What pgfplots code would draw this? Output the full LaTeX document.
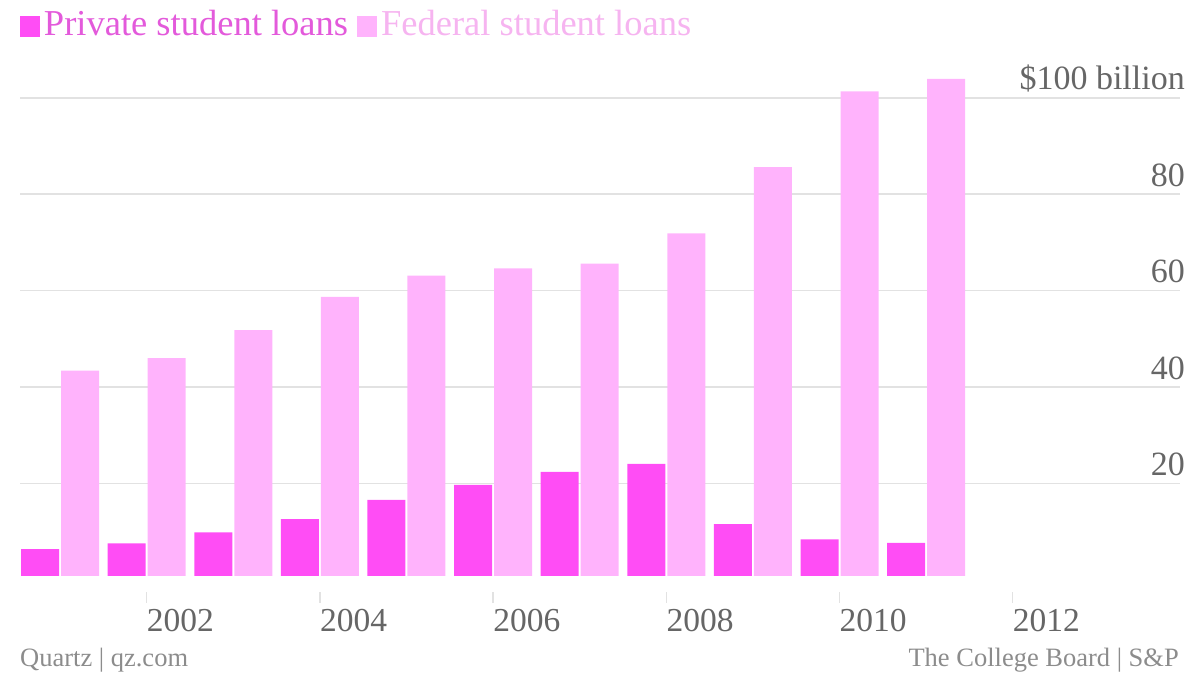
\documentclass[border=0pt]{standalone}
\usepackage{fontspec}
\setmainfont{Liberation Serif}
\usepackage{pgfplots}
\pgfplotsset{compat=1.18}
\definecolor{priv}{HTML}{FF4DF5}
\definecolor{fed}{HTML}{FFB3FC}
\definecolor{privtxt}{HTML}{E35ADB}
\definecolor{fedtxt}{HTML}{F6B4F0}
\definecolor{tickc}{HTML}{666666}
\definecolor{footc}{HTML}{8C8C8C}
\definecolor{gridc}{HTML}{E2E2E2}
\begin{document}
\begin{tikzpicture}[x=1pt,y=1pt]
\useasboundingbox (0,0) rectangle (1200,676);
\begin{axis}[
  at={(20pt,100pt)}, anchor=south west,
  scale only axis, width=1160pt, height=536pt,
  xmin=2000.537, xmax=2013.932, ymin=0.83, ymax=111.98,
  ybar=2pt, bar width=38pt,
  axis line style={draw=none},
  tick align=inside,
  major tick length=11pt,
  xtick={2002,2004,2006,2008,2010,2012},
  xticklabels={2002,2004,2006,2008,2010,2012},
  xtick pos=bottom,
  xtick style={draw=gridc, line width=1.5pt, yshift=-27pt},
  xticklabel style={anchor=base west, inner sep=0pt, yshift=-56pt, font=\fontsize{33.5}{33.5}\selectfont, text=tickc},
  ytick={20,40,60,80,100},
  yticklabels={20,40,60,80,\$100 billion},
  ytick pos=right, yticklabel pos=right,
  ytick style={draw=none},
  yticklabel style={anchor=base east, inner sep=0pt, xshift=5pt, yshift=8pt, font=\fontsize{34}{34}\selectfont, text=tickc},
  ymajorgrids, grid style={draw=gridc, line width=1.5pt},
  legend columns=2,
  legend style={draw=none, fill=none, at={(axis description cs:0,1)}, anchor=south west, xshift=-9pt, yshift=3pt, inner sep=0pt, outer sep=0pt, nodes={inner sep=0pt}, font=\fontsize{36.5}{36.5}\selectfont},
  legend image code/.code={\fill[#1] (0pt,-13.5pt) rectangle (20pt,7.5pt); \path (-9pt,0pt) (24pt,0pt);},
]
\addplot[fill=priv, draw=none] coordinates {
  (2001,6.4) (2002,7.6) (2003,9.9) (2004,12.6) (2005,16.6) (2006,19.7)
  (2007,22.4) (2008,24.1) (2009,11.6) (2010,8.4) (2011,7.7)};
\addplot[fill=fed, draw=none] coordinates {
  (2001,43.4) (2002,46.0) (2003,51.8) (2004,58.7) (2005,63.1) (2006,64.6)
  (2007,65.6) (2008,71.9) (2009,85.6) (2010,101.3) (2011,103.9)};
\legend{\textcolor{privtxt}{Private student loans},\textcolor{fedtxt}{Federal student loans}}
\end{axis}
\node[anchor=base west, inner sep=0pt, text=footc, font=\fontsize{26.5}{26.5}\selectfont] at (20,9) {Quartz | qz.com};
\node[anchor=base east, inner sep=0pt, text=footc, font=\fontsize{26.5}{26.5}\selectfont] at (1179,9) {The College Board | S\&P};
\end{tikzpicture}
\end{document}
